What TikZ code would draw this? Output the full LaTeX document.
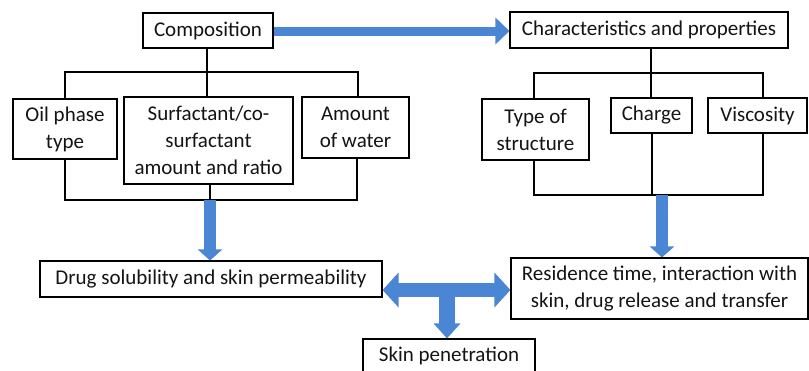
\documentclass[tikz,border=0pt]{standalone}
\usepackage{fontspec}
\setmainfont{Carlito}
\usetikzlibrary{arrows.meta}
\definecolor{arrowblue}{RGB}{74,134,212}
\definecolor{txt}{RGB}{20,20,20}
\tikzset{
  box/.style={draw=black, line width=1.1pt, inner sep=0pt, align=center, text=txt,
    font=\fontsize{21}{27}\selectfont},
  bracket/.style={draw=black, line width=1.9pt},
  bluearrow/.style={draw=arrowblue, line width=12pt, -{Triangle[width=24pt,length=11pt]}},
}
\begin{document}
\begin{tikzpicture}[x=1pt,y=-1pt]
\useasboundingbox[fill=white] (0,0) rectangle (809,370);
% boxes
\node[box, minimum width=130pt, minimum height=35pt] (comp) at (208,30.5) {Composition};
\node[box, minimum width=278pt, minimum height=36pt] (char) at (649,30) {Characteristics and properties};
\node[box, minimum width=104pt, minimum height=60pt] (oil) at (65,129) {Oil phase\\type};
\node[box, minimum width=169pt, minimum height=87pt] (surf) at (208.5,140.5) {Surfactant/co-\\surfactant\\amount and ratio};
\node[box, minimum width=107pt, minimum height=61pt] (water) at (355.5,127.5) {Amount\\of water};
\node[box, minimum width=107pt, minimum height=61pt] (type) at (535.5,129.5) {Type of\\structure};
\node[box, minimum width=81pt, minimum height=35pt] (charge) at (651.5,115.5) {Charge};
\node[box, minimum width=99pt, minimum height=35pt] (visc) at (757.5,115.5) {Viscosity};
\node[box, minimum width=342pt, minimum height=36pt] (drug) at (211,279) {Drug solubility and skin permeability};
\node[box, minimum width=297pt, minimum height=61pt] (res) at (659.5,288.5) {Residence time, interaction with\\skin, drug release and transfer};
\node[box, minimum width=172pt, minimum height=33pt] (skin) at (449,355.5) {Skin penetration};
% left brackets
\coordinate (tlL) at (65,72);
\coordinate (tlR) at (358,72);
\coordinate (tlM) at (207,72);
\draw[bracket] (tlL |- oil.north) -- (tlL) -- (tlR) -- (tlR |- water.north)
  (tlM |- comp.south) -- (tlM |- surf.north);
\coordinate (blL) at (65,200);
\coordinate (blR) at (357,200);
\coordinate (blM) at (210,200);
\draw[bracket] (blL |- oil.south) -- (blL) -- (blR) -- (blR |- water.south)
  (blM |- surf.south) -- (blM);
% right brackets
\coordinate (trL) at (534,73);
\coordinate (trR) at (763,73);
\coordinate (trM) at (651,73);
\draw[bracket] (trL |- type.north) -- (trL) -- (trR) -- (trR |- visc.north)
  (trM |- char.south) -- (trM |- charge.north);
\coordinate (brL) at (534,195);
\coordinate (brR) at (763,195);
\coordinate (brM) at (652,195);
\coordinate (brA) at (662,195);
\draw[bracket] (brL |- type.south) -- (brL) -- (brR) -- (brR |- visc.south)
  (brM |- charge.south) -- (brM);
% blue arrows
\draw[draw=arrowblue, line width=9pt, -{Triangle[width=26pt,length=14pt]}] (comp.east |- 0,31) -- (char.west |- 0,31);
\draw[bluearrow] (blM) -- (blM |- drug.north);
\draw[bluearrow] (brA) -- (brA |- res.north);
\coordinate (dm) at (447,290);
\draw[draw=arrowblue, line width=16pt, -{Triangle[width=26pt,length=15pt]}] (dm) -- (dm |- skin.north);
\draw[draw=arrowblue, line width=14pt, {Triangle[width=34pt,length=16pt]}-{Triangle[width=34pt,length=16pt]}] (drug.east |- dm) -- (res.west |- dm);
\end{tikzpicture}
\end{document}
